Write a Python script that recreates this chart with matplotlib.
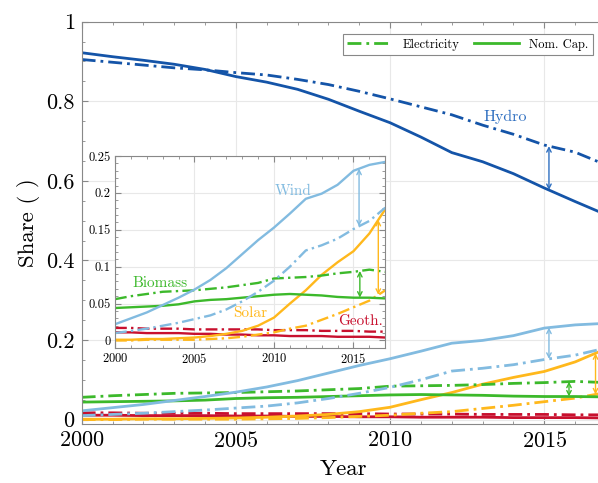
import matplotlib as mpl
import matplotlib.pyplot as plt
import numpy as np
from matplotlib.lines import Line2D
from matplotlib.ticker import MultipleLocator, FormatStrFormatter

# shares of renewables: electricity generated (dash-dot) vs nominal capacity (solid)
years = np.arange(2000, 2018)

hydro_cap = [0.922, 0.912, 0.903, 0.893, 0.880, 0.862, 0.848, 0.830, 0.805,
             0.775, 0.746, 0.710, 0.671, 0.648, 0.618, 0.582, 0.548, 0.515]
hydro_el = [0.905, 0.898, 0.891, 0.884, 0.879, 0.872, 0.866, 0.855, 0.842,
            0.825, 0.806, 0.786, 0.766, 0.740, 0.717, 0.690, 0.672, 0.640]

wind_cap = [0.022, 0.030, 0.038, 0.048, 0.058, 0.069, 0.082, 0.098, 0.117,
            0.136, 0.153, 0.172, 0.192, 0.199, 0.211, 0.230, 0.238, 0.242]
wind_el = [0.010, 0.013, 0.016, 0.020, 0.024, 0.029, 0.034, 0.042, 0.053,
           0.066, 0.081, 0.100, 0.122, 0.129, 0.138, 0.151, 0.162, 0.180]

bio_cap = [0.044, 0.045, 0.046, 0.047, 0.049, 0.053, 0.055, 0.056, 0.058,
           0.060, 0.062, 0.063, 0.062, 0.061, 0.059, 0.058, 0.058, 0.057]
bio_el = [0.056, 0.060, 0.063, 0.066, 0.067, 0.068, 0.070, 0.072, 0.075,
          0.078, 0.084, 0.085, 0.086, 0.088, 0.091, 0.093, 0.096, 0.093]

solar_cap = [0.001, 0.001, 0.002, 0.002, 0.003, 0.004, 0.006, 0.009, 0.013,
             0.020, 0.031, 0.050, 0.068, 0.089, 0.106, 0.121, 0.145, 0.178]
solar_el = [0.000, 0.000, 0.001, 0.001, 0.001, 0.001, 0.002, 0.003, 0.005,
            0.008, 0.011, 0.016, 0.020, 0.028, 0.036, 0.045, 0.054, 0.068]

geo_cap = [0.011, 0.011, 0.010, 0.010, 0.010, 0.009, 0.009, 0.008, 0.008,
           0.007, 0.007, 0.006, 0.006, 0.006, 0.005, 0.005, 0.005, 0.004]
geo_el = [0.017, 0.017, 0.016, 0.016, 0.016, 0.015, 0.015, 0.015, 0.015,
          0.015, 0.014, 0.014, 0.014, 0.013, 0.013, 0.013, 0.012, 0.012]

c_hydro = "#1454a8"
c_wind = "#82bbe0"
c_bio = "#3cb92b"
c_solar = "#ffb81c"
c_geo = "#c8102e"

series = [
    (geo_cap, geo_el, c_geo),
    (solar_cap, solar_el, c_solar),
    (bio_cap, bio_el, c_bio),
    (wind_cap, wind_el, c_wind),
    (hydro_cap, hydro_el, c_hydro),
]

dashdot = (0, (5, 1.8, 1, 1.8))

plt.rcParams["font.family"] = ["cmr10", "DejaVu Serif"]
plt.rcParams["axes.formatter.use_mathtext"] = True
plt.rcParams["mathtext.fontset"] = "cm"

fig = plt.figure(figsize=(5.98, 4.83), dpi=100)
ax = fig.add_axes([0.1366, 0.1222, 0.8768, 0.8329])
ins = fig.add_axes([0.1923, 0.2795, 0.452, 0.3975])


def style_axes(a, fs, ymaj, ymin):
    a.set_xlim(2000, 2017)
    a.xaxis.set_major_locator(MultipleLocator(5))
    a.xaxis.set_minor_locator(MultipleLocator(1))
    a.yaxis.set_major_locator(MultipleLocator(ymaj))
    a.yaxis.set_minor_locator(MultipleLocator(ymin))
    a.yaxis.set_major_formatter(FormatStrFormatter("%g"))
    a.tick_params(which="both", direction="in", top=True, right=True,
                  color="#888888", labelsize=fs, pad=5)
    a.tick_params(which="major", length=4)
    a.tick_params(which="minor", length=2)
    a.grid(True, which="major", color="#e8e8e8", lw=0.8)
    a.set_axisbelow(True)
    for s in a.spines.values():
        s.set_color("#888888")
        s.set_linewidth(0.8)


style_axes(ax, 16, 0.2, 0.05)
ax.set_ylim(-0.011, 1)
style_axes(ins, 9, 0.05, 0.01)
ins.set_ylim(-0.0102, 0.25)
ins.tick_params(pad=3)
ins.set_facecolor("white")


def arrow(a, x, top, bottom, color, lw=1.0):
    y1 = np.interp(x, years, top)
    y2 = np.interp(x, years, bottom)
    a.annotate("", xy=(x, y2), xytext=(x, y1),
               arrowprops=dict(arrowstyle="<->", color=color, lw=lw,
                               shrinkA=0, shrinkB=0, mutation_scale=8))


for cap, el, col in series:
    ax.plot(years, el, color=col, lw=2, ls=dashdot)
    ax.plot(years, cap, color=col, lw=2)
    if col != c_hydro:
        ins.plot(years, el, color=col, lw=1.7, ls=dashdot)
        ins.plot(years, cap, color=col, lw=1.7)

arrow(ax, 2015.15, hydro_el, hydro_cap, "#2f6fc0")
arrow(ax, 2015.15, wind_cap, wind_el, c_wind)
arrow(ax, 2015.8, bio_el, bio_cap, c_bio)
arrow(ax, 2016.66, solar_cap, solar_el, c_solar)

arrow(ins, 2015.35, wind_cap, wind_el, c_wind)
arrow(ins, 2015.4, bio_el, bio_cap, c_bio)
arrow(ins, 2016.56, solar_cap, solar_el, c_solar)

ax.text(2013.73, 0.761, "Hydro", color="#2f6fc0", fontsize=11.5,
        ha="center", va="center")
ins.text(2011.2, 0.202, "Wind", color=c_wind, fontsize=11,
         ha="center", va="center")
ins.text(2002.83, 0.0777, "Biomass", color=c_bio, fontsize=11,
         ha="center", va="center")
ins.text(2008.5, 0.037, "Solar", color=c_solar, fontsize=11,
         ha="center", va="center")
ins.text(2015.46, 0.0265, "Geoth.", color=c_geo, fontsize=11,
         ha="center", va="center")

ax.set_xlabel("Year", fontsize=16.5, labelpad=6)
ax.set_ylabel("Share ( )", fontsize=16.5, labelpad=4.5)

handles = [Line2D([], [], color=c_bio, lw=2, ls=dashdot),
           Line2D([], [], color=c_bio, lw=2)]
leg = ax.legend(handles, ["Electricity", "Nom. Cap."], ncol=2, fontsize=9,
                loc="upper right", bbox_to_anchor=(593 / 598, 1 - 34.3 / 483),
                bbox_transform=fig.transFigure, borderaxespad=0,
                fancybox=False, handlelength=3.6, columnspacing=1.2,
                borderpad=0.35, framealpha=1)
leg.get_frame().set_edgecolor("#888888")
leg.get_frame().set_linewidth(0.8)

plt.savefig("out.png", dpi=100)
